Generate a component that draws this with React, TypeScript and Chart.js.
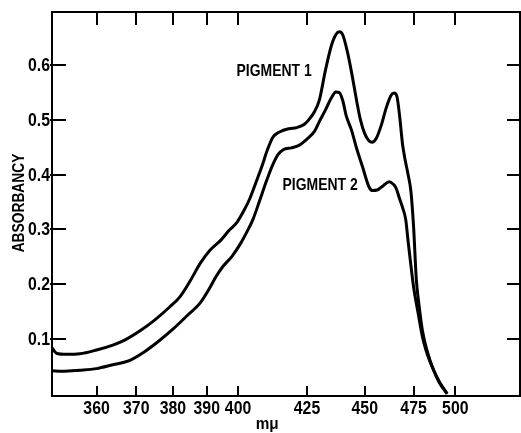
import React, { useEffect, useRef } from 'react';
import { Chart, registerables } from 'chart.js';

Chart.register(...registerables);

// ---- data (wavelength in mμ, absorbancy) ----
const P1_NM = [349.7, 350.7, 353, 356, 360, 364, 367, 371, 375, 379, 382, 385, 388, 391, 394.5, 397, 399.5, 402, 404, 406, 408, 410, 412, 414.5, 418, 421, 424, 426, 428, 430, 432.5, 435, 437, 438.5, 440, 442, 444, 446, 448, 450, 452, 453.5, 455.5, 458, 460.5, 463, 464.5, 466, 467.5, 469, 470.5, 472, 473.5, 475, 476.5, 478, 480, 483, 486, 490, 494.8];
const P1_ABS = [0.084, 0.074, 0.072, 0.073, 0.080, 0.089, 0.098, 0.115, 0.135, 0.158, 0.177, 0.206, 0.238, 0.262, 0.281, 0.298, 0.312, 0.335, 0.357, 0.385, 0.413, 0.444, 0.468, 0.478, 0.484, 0.486, 0.492, 0.502, 0.515, 0.536, 0.590, 0.635, 0.656, 0.661, 0.655, 0.625, 0.585, 0.540, 0.500, 0.475, 0.462, 0.459, 0.466, 0.490, 0.522, 0.545, 0.549, 0.543, 0.505, 0.455, 0.425, 0.400, 0.370, 0.305, 0.210, 0.163, 0.115, 0.075, 0.047, 0.020, 0.0];

const P2_NM = [349.7, 352, 356, 360, 364, 368, 372, 376, 380, 384, 388, 391, 393, 395, 398, 401, 403, 405, 407.3, 410, 412, 414, 416, 419, 422, 425, 428, 430, 432.5, 435, 437, 438.5, 440, 441.5, 444, 446, 449, 452, 453.7, 456, 459, 462, 464, 465.5, 467.5, 469, 470.7, 472, 473.5, 475, 477.5, 480, 482, 484, 487, 490, 494.8];
const P2_ABS = [0.042, 0.041, 0.043, 0.046, 0.053, 0.060, 0.076, 0.096, 0.118, 0.142, 0.166, 0.194, 0.215, 0.232, 0.251, 0.276, 0.296, 0.318, 0.352, 0.392, 0.418, 0.437, 0.446, 0.449, 0.454, 0.465, 0.479, 0.497, 0.518, 0.540, 0.551, 0.550, 0.535, 0.508, 0.480, 0.451, 0.414, 0.378, 0.371, 0.372, 0.380, 0.387, 0.383, 0.376, 0.355, 0.340, 0.318, 0.278, 0.235, 0.195, 0.148, 0.104, 0.080, 0.062, 0.040, 0.022, 0.0];

const X_TICKS_NM = [360, 370, 380, 390, 400, 425, 450, 475, 500];
const X_TICK_LABELS = ['360', '370', '380', '390', '400', '425', '450', '475', '500'];
const Y_TICKS = [0.1, 0.2, 0.3, 0.4, 0.5, 0.6];
const Y_TICK_LABELS = ['0.1', '0.2', '0.3', '0.4', '0.5', '0.6'];
const SERIES_NAMES = ['PIGMENT 1', 'PIGMENT 2'];
const X_TITLE = 'mμ';
const Y_TITLE = 'ABSORBANCY';

// axis ranges
const X_MIN_NM = 349.7;
const X_MAX_NM = 548;
const Y_MIN = -0.004;
const Y_MAX = 0.697;

// label anchors (data units)
const LABEL_ANCHORS = [
  { nm: 399.5, abs: 0.589 },
  { nm: 415.6, abs: 0.381 },
];
const X_TITLE_NM = 410;

const FONT = "'Liberation Sans', Arial, sans-serif";

// the wavelength axis is linear in 1/λ²
const toU = (nm: number) => 1e6 / (nm * nm);

function condensedText(ctx: CanvasRenderingContext2D, text: string, x: number, y: number, sx: number, rot = 0) {
  ctx.save();
  ctx.translate(x, y);
  if (rot) ctx.rotate(rot);
  ctx.scale(sx, 1);
  ctx.fillText(text, 0, 0);
  ctx.restore();
}

const decor = {
  id: 'decor',
  afterDatasetsDraw(chart: any) {
    const { ctx, chartArea: a, scales } = chart;
    const x = scales.x;
    const y = scales.y;
    ctx.save();
    ctx.strokeStyle = '#000';
    ctx.lineWidth = 2;
    ctx.strokeRect(a.left, a.top, a.right - a.left, a.bottom - a.top);
    ctx.beginPath();
    X_TICKS_NM.forEach((nm) => {
      const px = Math.round(x.getPixelForValue(toU(nm)));
      ctx.moveTo(px, a.bottom);
      ctx.lineTo(px, a.bottom - 10);
      ctx.moveTo(px, a.top);
      ctx.lineTo(px, a.top + 13);
    });
    Y_TICKS.forEach((v) => {
      const py = Math.round(y.getPixelForValue(v));
      ctx.moveTo(a.left - 2, py);
      ctx.lineTo(a.left + 14, py);
      ctx.moveTo(a.right, py);
      ctx.lineTo(a.right - 13, py);
    });
    ctx.stroke();

    ctx.fillStyle = '#000';
    ctx.textBaseline = 'middle';

    // tick labels
    ctx.font = `bold 18px ${FONT}`;
    ctx.textAlign = 'center';
    X_TICKS_NM.forEach((nm, i) => {
      condensedText(ctx, X_TICK_LABELS[i], x.getPixelForValue(toU(nm)), a.bottom + 13, 0.88);
    });
    ctx.textAlign = 'right';
    Y_TICKS.forEach((v, i) => {
      condensedText(ctx, Y_TICK_LABELS[i], a.left - 2, y.getPixelForValue(v) + 1, 0.88);
    });

    // series labels
    ctx.font = `bold 17px ${FONT}`;
    ctx.textAlign = 'left';
    SERIES_NAMES.forEach((name, i) => {
      const p = LABEL_ANCHORS[i];
      condensedText(ctx, name, x.getPixelForValue(toU(p.nm)), y.getPixelForValue(p.abs), 0.82);
    });

    // axis titles
    ctx.textAlign = 'center';
    condensedText(ctx, X_TITLE, x.getPixelForValue(toU(X_TITLE_NM)), chart.height - 9, 0.9);
    condensedText(ctx, Y_TITLE, 19, (a.top + a.bottom) / 2 - 1, 0.81, -Math.PI / 2);
    ctx.restore();
  },
};

export default function App() {
  const ref = useRef<HTMLCanvasElement | null>(null);

  useEffect(() => {
    document.body.style.margin = '0';
    const canvas = ref.current;
    if (!canvas) return;
    const chart = new Chart(canvas, {
      type: 'line',
      data: {
        datasets: [
          {
            label: SERIES_NAMES[0],
            data: P1_NM.map((nm, i) => ({ x: toU(nm), y: P1_ABS[i] })),
            borderColor: '#000',
            borderWidth: 3,
            pointRadius: 0,
            cubicInterpolationMode: 'monotone',
            fill: false,
          },
          {
            label: SERIES_NAMES[1],
            data: P2_NM.map((nm, i) => ({ x: toU(nm), y: P2_ABS[i] })),
            borderColor: '#000',
            borderWidth: 3,
            pointRadius: 0,
            cubicInterpolationMode: 'monotone',
            fill: false,
          },
        ],
      },
      options: {
        animation: false,
        responsive: false,
        maintainAspectRatio: false,
        layout: { padding: { top: 12, right: 1, left: 0, bottom: 0 } },
        plugins: { legend: { display: false }, tooltip: { enabled: false } },
        scales: {
          x: {
            type: 'linear',
            reverse: true,
            min: toU(X_MAX_NM),
            max: toU(X_MIN_NM),
            afterBuildTicks: (s: any) => {
              s.ticks = X_TICKS_NM.map((nm) => ({ value: toU(nm) }));
            },
            afterFit: (s: any) => {
              s.height = 37;
            },
            grid: { display: false, drawTicks: false },
            border: { display: false },
            ticks: { display: false },
          },
          y: {
            type: 'linear',
            min: Y_MIN,
            max: Y_MAX,
            afterBuildTicks: (s: any) => {
              s.ticks = Y_TICKS.map((v) => ({ value: v }));
            },
            afterFit: (s: any) => {
              s.width = 52;
            },
            grid: { display: false, drawTicks: false },
            border: { display: false },
            ticks: { display: false },
          },
        },
      },
      plugins: [decor],
    } as any);
    return () => chart.destroy();
  }, []);

  return (
    <div style={{ width: 521, height: 433 }}>
      <canvas ref={ref} width={521} height={433} style={{ display: 'block' }} />
    </div>
  );
}
